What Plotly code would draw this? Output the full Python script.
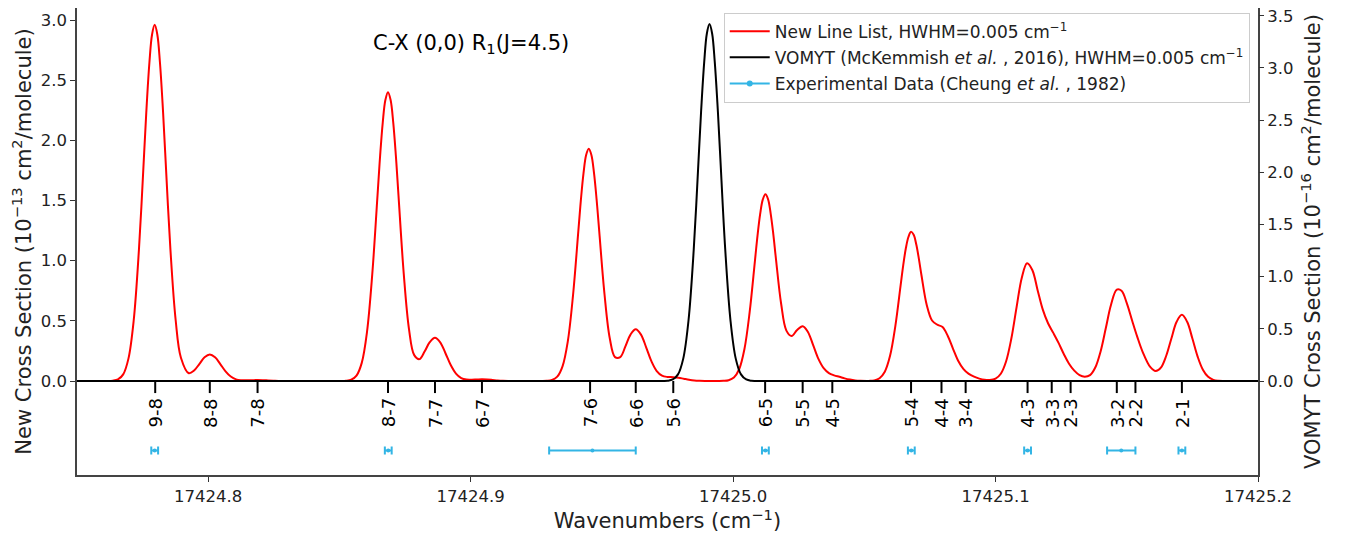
import plotly.graph_objects as go

# ---- New line list cross section (10^-13 cm^2/molecule) ----
new_x = [17424.7500, 17424.7616, 17424.7636, 17424.7656, 17424.7676, 17424.7696, 17424.7716,
         17424.7736, 17424.7756, 17424.7766, 17424.7776, 17424.7786, 17424.7796, 17424.7806,
         17424.7816, 17424.7826, 17424.7836, 17424.7856,
         17424.7876, 17424.7896, 17424.7926, 17424.7946, 17424.7966, 17424.7986, 17424.8006,
         17424.8026, 17424.8046, 17424.8066, 17424.8086, 17424.8106, 17424.8126, 17424.8146,
         17424.8166, 17424.8188, 17424.8208, 17424.8228, 17424.8248, 17424.8268, 17424.8300,
         17424.8450,
         17424.8505, 17424.8525, 17424.8545, 17424.8565, 17424.8585, 17424.8605, 17424.8625,
         17424.8645, 17424.8655, 17424.8665, 17424.8675, 17424.8685, 17424.8695, 17424.8705,
         17424.8715, 17424.8725, 17424.8745, 17424.8765,
         17424.8785, 17424.8805, 17424.8825, 17424.8844, 17424.8864, 17424.8884, 17424.8904,
         17424.8924, 17424.8944, 17424.8964, 17424.8984, 17424.9004, 17424.9023, 17424.9043,
         17424.9063, 17424.9083, 17424.9103, 17424.9123, 17424.9143, 17424.9200,
         17424.9270, 17424.9290, 17424.9310, 17424.9330, 17424.9350, 17424.9370, 17424.9390,
         17424.9410, 17424.9420, 17424.9430, 17424.9440, 17424.9450, 17424.9460, 17424.9470,
         17424.9480, 17424.9490, 17424.9510, 17424.9530,
         17424.9550, 17424.9570, 17424.9590, 17424.9609, 17424.9629, 17424.9649, 17424.9669,
         17424.9689, 17424.9709, 17424.9729, 17424.9749, 17424.9772, 17424.9792, 17424.9812,
         17424.9832, 17424.9852, 17424.9872, 17424.9892, 17424.9920,
         17424.9943, 17424.9963, 17424.9983, 17425.0003, 17425.0023, 17425.0043, 17425.0063,
         17425.0083, 17425.0093, 17425.0103, 17425.0113, 17425.0123, 17425.0133, 17425.0143,
         17425.0153, 17425.0163, 17425.0183, 17425.0203,
         17425.0223, 17425.0243, 17425.0265, 17425.0285, 17425.0305, 17425.0325, 17425.0345,
         17425.0365, 17425.0385, 17425.0405, 17425.0425, 17425.0445, 17425.0465, 17425.0485,
         17425.0518, 17425.0538, 17425.0558, 17425.0578, 17425.0598, 17425.0618, 17425.0638,
         17425.0648, 17425.0658, 17425.0668, 17425.0678, 17425.0688, 17425.0698, 17425.0708,
         17425.0718, 17425.0738, 17425.0758, 17425.0778,
         17425.0798, 17425.0818, 17425.0838, 17425.0858, 17425.0878, 17425.0898, 17425.0918,
         17425.0938, 17425.0958, 17425.0978, 17425.1000,
         17425.1020, 17425.1040, 17425.1060, 17425.1080, 17425.1100, 17425.1120, 17425.1140,
         17425.1160, 17425.1180, 17425.1200, 17425.1220, 17425.1240, 17425.1260, 17425.1280,
         17425.1300, 17425.1320, 17425.1340, 17425.1360, 17425.1380, 17425.1400, 17425.1420,
         17425.1440, 17425.1462, 17425.1480, 17425.1500, 17425.1520, 17425.1540, 17425.1560,
         17425.1590, 17425.1610, 17425.1630, 17425.1650, 17425.1670, 17425.1690, 17425.1710,
         17425.1730, 17425.1750, 17425.1770, 17425.1790, 17425.1810, 17425.1830, 17425.1850,
         17425.1870, 17425.1900, 17425.2000]
new_y = [0.0, 0.0, 0.0025, 0.013, 0.055, 0.186, 0.503,
         1.092, 1.90, 2.309, 2.649, 2.88, 2.96, 2.88,
         2.649, 2.309, 1.90, 1.092,
         0.505, 0.194, 0.065, 0.087, 0.141, 0.197, 0.22,
         0.197, 0.141, 0.081, 0.037, 0.014, 0.007, 0.006,
         0.007, 0.008, 0.007, 0.005, 0.003, 0.001, 0.0,
         0.0,
         0.0, 0.002, 0.011, 0.045, 0.151, 0.408, 0.886,
         1.541, 1.872, 2.148, 2.335, 2.40, 2.335, 2.148,
         1.872, 1.543, 0.893, 0.432,
         0.215, 0.182, 0.247, 0.323, 0.36, 0.322, 0.231,
         0.133, 0.062, 0.025, 0.012, 0.011, 0.0125, 0.014,
         0.0125, 0.009, 0.005, 0.0024, 0.001, 0.0,
         0.0, 0.0016, 0.0085, 0.036, 0.122, 0.328, 0.712,
         1.239, 1.505, 1.727, 1.878, 1.93, 1.878, 1.727,
         1.505, 1.241, 0.721, 0.356,
         0.199, 0.199, 0.29, 0.386, 0.43, 0.386, 0.278,
         0.163, 0.083, 0.045, 0.034, 0.032, 0.027, 0.019,
         0.011, 0.005, 0.002, 0.0006, 0.0,
         0.0, 0.0013, 0.0068, 0.029, 0.098, 0.264, 0.572,
         0.995, 1.209, 1.387, 1.508, 1.552, 1.512, 1.394,
         1.223, 1.02, 0.642, 0.419,
         0.374, 0.422, 0.456, 0.408, 0.298, 0.184, 0.107,
         0.066, 0.047, 0.035, 0.022, 0.012, 0.005, 0.002,
         0.001, 0.0054, 0.023, 0.077, 0.209, 0.454, 0.79,
         0.959, 1.101, 1.197, 1.24, 1.215, 1.134, 1.013,
         0.875, 0.63, 0.503, 0.468,
         0.448, 0.374, 0.268, 0.167, 0.099, 0.059, 0.036,
         0.02, 0.01, 0.008, 0.019,
         0.060, 0.162, 0.351, 0.612, 0.859, 0.979, 0.923,
         0.757, 0.593, 0.48, 0.40, 0.317, 0.225, 0.144,
         0.086, 0.049, 0.036, 0.049, 0.112, 0.244, 0.438,
         0.634, 0.76, 0.75, 0.647, 0.505, 0.367, 0.245,
         0.115, 0.083, 0.111, 0.208, 0.354, 0.492, 0.55,
         0.492, 0.353, 0.203, 0.094, 0.035, 0.010, 0.0024,
         0.0005, 0.0, 0.0]

# ---- VOMYT cross section (10^-16 cm^2/molecule) ----
vomyt_x = [17424.7500, 17424.9700, 17424.9750, 17424.9770, 17424.9790, 17424.9810, 17424.9830,
           17424.9850, 17424.9870, 17424.9880, 17424.9890, 17424.9900, 17424.9910, 17424.9920,
           17424.9930, 17424.9940, 17424.9950, 17424.9970,
           17424.9990, 17425.0010, 17425.0030, 17425.0050, 17425.0070, 17425.0120, 17425.2000]
vomyt_y = [0.0, 0.0, 0.003, 0.015, 0.064, 0.215, 0.58,
           1.26, 2.20, 2.67, 3.06, 3.33, 3.42, 3.33,
           3.06, 2.67, 2.20, 1.26,
           0.58, 0.215, 0.064, 0.015, 0.003, 0.0, 0.0]

# ---- band labels ----
band_labels = ["9-8", "8-8", "7-8", "8-7", "7-7", "6-7", "7-6", "6-6", "5-6", "6-5", "5-5",
               "4-5", "5-4", "4-4", "3-4", "4-3", "3-3", "2-3", "3-2", "2-2", "2-1"]
band_pos = [17424.7798, 17424.8006, 17424.8188, 17424.8685, 17424.8864, 17424.9043,
            17424.9455, 17424.9629, 17424.9772, 17425.0122, 17425.0265, 17425.0378,
            17425.0678, 17425.0794, 17425.0886, 17425.1122, 17425.1214, 17425.1286,
            17425.1462, 17425.1533, 17425.1710]

# ---- experimental data (Cheung et al., 1982) ----
exp_x = [17424.7796, 17424.8686, 17424.9464, 17425.0123, 17425.0679, 17425.1122,
         17425.1479, 17425.1710]
exp_err = [0.0013, 0.0013, 0.0165, 0.0013, 0.0013, 0.0013, 0.0054, 0.0013]

x_ticks = [17424.8, 17424.9, 17425.0, 17425.1, 17425.2]
x_ticktext = ["17424.8", "17424.9", "17425.0", "17425.1", "17425.2"]
y1_ticks = [0.0, 0.5, 1.0, 1.5, 2.0, 2.5, 3.0]
y2_ticks = [0.0, 0.5, 1.0, 1.5, 2.0, 2.5, 3.0, 3.5]

EXP_Y = -0.577
LABEL_TICK_LEN = 0.10
EXP_COLOR = "#33b5e5"
FONT = "DejaVu Sans"

fig = go.Figure()
fig.add_trace(go.Scatter(
    x=new_x, y=new_y, mode="lines", legendgroup="a",
    line=dict(color="red", width=2, shape="spline", smoothing=1.0),
    name="New Line List, HWHM=0.005 cm<sup>−1</sup>"))
fig.add_trace(go.Scatter(
    x=vomyt_x, y=vomyt_y, mode="lines", yaxis="y2", legendgroup="b",
    line=dict(color="black", width=2, shape="spline", smoothing=1.0),
    name="VOMYT (McKemmish <i>et al.</i> , 2016), HWHM=0.005 cm<sup>−1</sup>"))

# label tick marks
tx, ty = [], []
for p in band_pos:
    tx += [p, p, None]
    ty += [0, -LABEL_TICK_LEN, None]
fig.add_trace(go.Scatter(x=tx, y=ty, mode="lines", line=dict(color="black", width=2),
                         showlegend=False, hoverinfo="skip"))

fig.add_trace(go.Scatter(
    x=exp_x, y=[EXP_Y] * len(exp_x), mode="markers",
    marker=dict(color=EXP_COLOR, size=4),
    error_x=dict(type="data", array=exp_err, visible=True, color=EXP_COLOR,
                 thickness=2, width=4),
    showlegend=False))
fig.add_trace(go.Scatter(
    x=[None], y=[None], mode="lines+markers", legendgroup="c",
    line=dict(color=EXP_COLOR, width=2), marker=dict(color=EXP_COLOR, size=6),
    name="Experimental Data (Cheung <i>et al.</i> , 1982)"))

for lab, p in zip(band_labels, band_pos):
    fig.add_annotation(x=p, y=-0.13, xref="x", yref="y", text=lab, showarrow=False,
                       textangle=-90, xanchor="center", yanchor="top",
                       font=dict(family=FONT, size=18, color="black"))

fig.add_annotation(x=17424.9002, y=2.80, xref="x", yref="y",
                   text="C-X (0,0) R<sub>1</sub>(J=4.5)", showarrow=False,
                   font=dict(family=FONT, size=21, color="black"))

axis_common = dict(showgrid=False, zeroline=False, ticks="outside", ticklen=5,
                   tickwidth=1.2, tickcolor="#333", automargin=False,
                   ticklabeloverflow="allow",
                   tickfont=dict(family=FONT, size=16.5, color="#222"))

# the page body adds an 8px offset, so the figure is sized/margined to compensate
fig.update_layout(
    width=1345, height=526,
    margin=dict(l=69, r=95, t=0, b=59, pad=0),
    paper_bgcolor="white", plot_bgcolor="white",
    font=dict(family=FONT, size=16, color="#222"),
    xaxis=dict(range=[17424.75, 17425.2], tickvals=x_ticks, ticktext=x_ticktext,
               showline=True, linecolor="#444", linewidth=1.5, mirror=True,
               title=dict(text="Wavenumbers (cm<sup>−1</sup>)", font=dict(family=FONT, size=21),
                          standoff=4),
               **axis_common),
    yaxis=dict(range=[-0.781, 3.100], tickvals=y1_ticks,
               ticktext=[f"{v:.1f}" for v in y1_ticks],
               showline=True, linecolor="#444", linewidth=1.5, mirror=True,
               title=dict(text="New Cross Section (10<sup>−13</sup> cm<sup>2</sup>/molecule)",
                          font=dict(family=FONT, size=21), standoff=8),
               **axis_common),
    yaxis2=dict(range=[-0.900, 3.574], overlaying="y", side="right", tickvals=y2_ticks,
                ticktext=[f"{v:.1f}" for v in y2_ticks], showline=False,
                title=dict(text="VOMYT Cross Section (10<sup>−16</sup> cm<sup>2</sup>/molecule)",
                           font=dict(family=FONT, size=21), standoff=12),
                **axis_common),
    legend=dict(x=0.993, y=0.99, xanchor="right", yanchor="top",
                bordercolor="#cccccc", borderwidth=1, bgcolor="rgba(255,255,255,0.9)",
                font=dict(family=FONT, size=17, color="#222"), tracegroupgap=1,
                itemwidth=40),
    showlegend=True,
)

fig.write_html("out.html")
